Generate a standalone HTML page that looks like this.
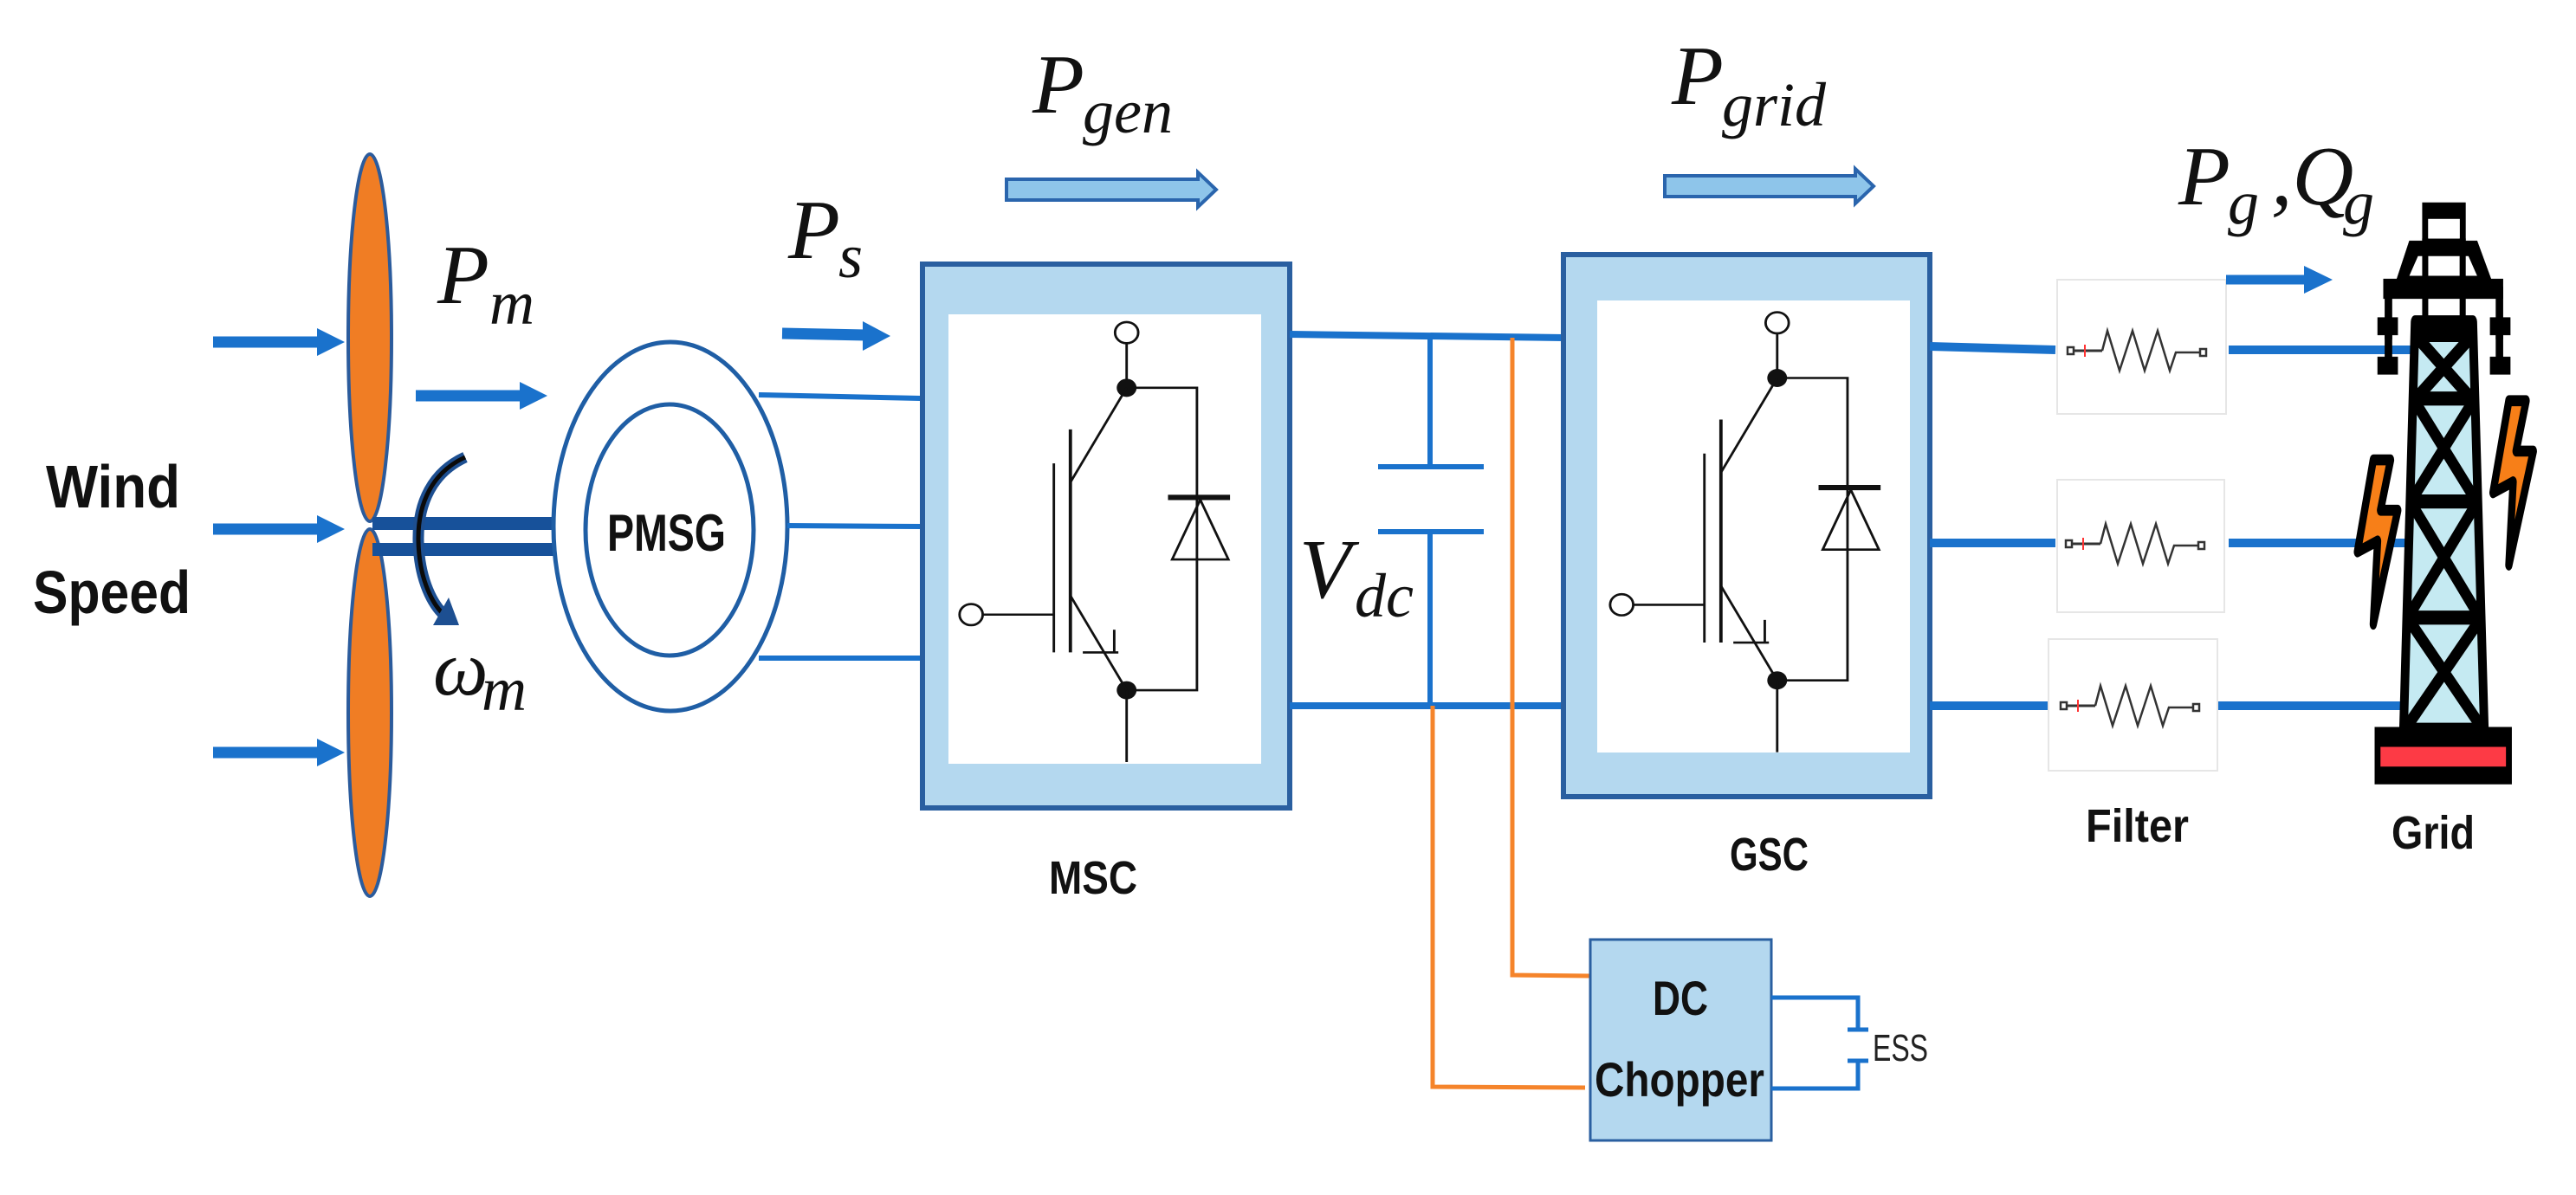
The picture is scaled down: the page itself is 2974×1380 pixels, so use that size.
<!DOCTYPE html>
<html><head><meta charset="utf-8"><style>
html,body{margin:0;padding:0;background:#fff;}
svg{display:block;}
.m{font-family:"Liberation Serif",serif;font-style:italic;fill:#111;}
.t{font-family:"Liberation Sans",sans-serif;font-weight:bold;fill:#111;}
</style></head><body>
<svg width="2974" height="1380" viewBox="0 0 2974 1380" xmlns="http://www.w3.org/2000/svg">
<defs>
<g id="sw" fill="none" stroke="#111">
  <circle cx="605" cy="427" r="14" stroke-width="3" fill="#fff"/>
  <line x1="605" y1="441" x2="605" y2="500" stroke-width="3"/>
  <polyline points="605,500 690,500 690,900 605,900" stroke-width="3"/>
  <circle cx="605" cy="500" r="12" fill="#111" stroke="none"/>
  <circle cx="605" cy="900" r="12" fill="#111" stroke="none"/>
  <line x1="605" y1="900" x2="605" y2="995" stroke-width="3"/>
  <line x1="655" y1="645" x2="730" y2="645" stroke-width="7"/>
  <polygon points="660,727 728,727 694,648" stroke-width="3"/>
  <line x1="605" y1="500" x2="537" y2="625" stroke-width="3"/>
  <line x1="537" y1="555" x2="537" y2="850" stroke-width="4"/>
  <line x1="517" y1="600" x2="517" y2="850" stroke-width="3"/>
  <line x1="431" y1="800" x2="517" y2="800" stroke-width="3"/>
  <circle cx="417" cy="800" r="14" stroke-width="3" fill="#fff"/>
  <line x1="537" y1="775" x2="605" y2="900" stroke-width="3"/>
  <line x1="552" y1="850" x2="595" y2="850" stroke-width="3"/>
  <line x1="590" y1="820" x2="590" y2="850" stroke-width="3"/>
</g>
<g id="res" fill="none" stroke="#333">
  <rect x="2387" y="401" width="7" height="8" stroke-width="2.5"/>
  <line x1="2394" y1="405" x2="2427" y2="405" stroke-width="3"/>
  <line x1="2407" y1="398" x2="2407" y2="412" stroke="#f33" stroke-width="2"/>
  <polyline points="2427,405 2433,382 2447,428 2462,382 2476,428 2491,382 2505,428 2512,407 2540,407" stroke-width="2.5"/>
  <rect x="2540" y="403" width="7" height="8" stroke-width="2.5"/>
</g>
</defs>

<!-- wind arrows -->
<g stroke="#1a72cc" stroke-width="13" fill="#1a72cc">
  <line x1="246" y1="395" x2="370" y2="395"/><polygon points="366,379 398,395 366,411" stroke="none"/>
  <line x1="246" y1="611" x2="370" y2="611"/><polygon points="366,595 398,611 366,627" stroke="none"/>
  <line x1="246" y1="869" x2="370" y2="869"/><polygon points="366,853 398,869 366,885" stroke="none"/>
  <line x1="480" y1="457" x2="605" y2="457"/><polygon points="600,441 632,457 600,473" stroke="none"/>
  <line x1="903" y1="385" x2="1000" y2="387"/><polygon points="996,371 1028,388 996,405" stroke="none"/>
</g>

<!-- blades -->
<ellipse cx="427" cy="390" rx="25" ry="212" fill="#f07d24" stroke="#2b5b9c" stroke-width="4"/>
<ellipse cx="427" cy="823" rx="25" ry="212" fill="#f07d24" stroke="#2b5b9c" stroke-width="4"/>

<!-- shaft -->
<rect x="430" y="597" width="210" height="15" fill="#17519a"/>
<rect x="430" y="627" width="210" height="15" fill="#17519a"/>
<path d="M537,528 C500,545 482,580 483,625 C484,670 500,700 515,712" fill="none" stroke="#1d4f91" stroke-width="13"/>
<path d="M537,528 C500,545 482,580 483,625 C484,670 500,700 515,712" fill="none" stroke="#0a0a0a" stroke-width="5"/>
<polygon points="500,722 530,722 518,690" fill="#1d4f91"/>

<!-- PMSG -->
<ellipse cx="774" cy="608" rx="135" ry="213" fill="#fff" stroke="#1f5ea5" stroke-width="5"/>
<ellipse cx="773" cy="612" rx="97" ry="145" fill="#fff" stroke="#1f5ea5" stroke-width="5"/>
<text x="701" y="636" class="t" font-size="60" textLength="137" lengthAdjust="spacingAndGlyphs">PMSG</text>

<g stroke="#1a72cc" stroke-width="6">
<line x1="876" y1="456" x2="1063" y2="460"/>
<line x1="909" y1="607" x2="1063" y2="608"/>
<line x1="876" y1="760" x2="1063" y2="760"/>
</g>

<!-- MSC -->
<rect x="1065" y="305" width="424" height="628" fill="#b4d8ef" stroke="#2a5fa0" stroke-width="6"/>
<rect x="1095" y="363" width="361" height="519" fill="#fff"/>
<g transform="scale(0.955,0.873) translate(757,13)"><use href="#sw"/></g>
<text x="1211" y="1032" class="t" font-size="54" textLength="102" lengthAdjust="spacingAndGlyphs">MSC</text>

<!-- DC link -->
<g stroke="#1a72cc" stroke-width="8">
<line x1="1489" y1="386" x2="1805" y2="390"/>
<line x1="1489" y1="815" x2="1805" y2="815"/>
</g>
<g stroke="#1a72cc" stroke-width="6">
<line x1="1651" y1="390" x2="1651" y2="539"/>
<line x1="1651" y1="614" x2="1651" y2="815"/>
<line x1="1591" y1="539" x2="1713" y2="539"/>
<line x1="1591" y1="614" x2="1713" y2="614"/>
</g>
<g stroke="#f5842b" stroke-width="5" fill="none">
<polyline points="1746,390 1746,1126 1836,1127"/>
<polyline points="1654,815 1654,1255 1830,1256"/>
</g>
<rect x="1836" y="1085" width="209" height="232" fill="#b4d8ef" stroke="#2a5fa0" stroke-width="3"/>
<text x="1908" y="1172" class="t" font-size="56" textLength="64" lengthAdjust="spacingAndGlyphs">DC</text>
<text x="1841" y="1266" class="t" font-size="56" textLength="196" lengthAdjust="spacingAndGlyphs">Chopper</text>
<g stroke="#1a72cc" stroke-width="5" fill="none">
<polyline points="2045,1152 2145,1152 2145,1189"/>
<polyline points="2045,1257 2145,1257 2145,1225"/>
<line x1="2133" y1="1189" x2="2157" y2="1189"/>
<line x1="2133" y1="1225" x2="2157" y2="1225"/>
</g>
<text x="2162" y="1225" font-family="Liberation Sans,sans-serif" font-size="44" fill="#222" textLength="64" lengthAdjust="spacingAndGlyphs">ESS</text>

<!-- GSC -->
<rect x="1805" y="294" width="423" height="626" fill="#b4d8ef" stroke="#2a5fa0" stroke-width="6"/>
<rect x="1844" y="347" width="361" height="522" fill="#fff"/>
<g transform="translate(1474,0) scale(0.955,0.873)"><use href="#sw"/></g>
<text x="1997" y="1005" class="t" font-size="54" textLength="91" lengthAdjust="spacingAndGlyphs">GSC</text>

<!-- outputs -->
<g stroke="#1a72cc" stroke-width="10">
<line x1="2228" y1="400" x2="2373" y2="404"/>
<line x1="2573" y1="404" x2="2785" y2="404"/>
<line x1="2228" y1="627" x2="2373" y2="627"/>
<line x1="2573" y1="627" x2="2862" y2="627"/>
<line x1="2228" y1="815" x2="2370" y2="815"/>
<line x1="2560" y1="815" x2="2790" y2="815"/>
</g>
<g fill="#fff" stroke="#e6e6e6" stroke-width="2">
<rect x="2375" y="323" width="195" height="155"/>
<rect x="2375" y="554" width="193" height="153"/>
<rect x="2365" y="738" width="195" height="152"/>
</g>
<use href="#res"/>
<use href="#res" transform="translate(-2,223)"/>
<use href="#res" transform="translate(-8,410)"/>
<text x="2408" y="972" class="t" font-size="54" textLength="119" lengthAdjust="spacingAndGlyphs">Filter</text>

<!-- tower -->
<g transform="translate(2700,230) scale(0.333,0.506)" stroke="#000" stroke-linejoin="round">
  <rect x="290" y="8" width="150" height="90" fill="#000"/>
  <rect x="310" y="45" width="110" height="45" fill="#fff" stroke="none"/>
  <polygon points="245,95 480,95 530,185 200,185" fill="#000"/>
  <polygon points="275,130 450,130 480,175 245,175" fill="#fff" stroke="none"/>
  <rect x="155" y="182" width="415" height="45" fill="#000"/>
  <rect x="290" y="90" width="20" height="190" fill="#000"/>
  <rect x="420" y="90" width="20" height="190" fill="#000"/>
  <rect x="160" y="200" width="25" height="120" fill="#000"/>
  <rect x="545" y="200" width="25" height="120" fill="#000"/>
  <rect x="135" y="270" width="70" height="40" fill="#000"/>
  <rect x="135" y="360" width="70" height="40" fill="#000"/>
  <rect x="160" y="300" width="25" height="70" fill="#000"/>
  <rect x="525" y="270" width="70" height="40" fill="#000"/>
  <rect x="525" y="360" width="70" height="40" fill="#000"/>
  <rect x="545" y="300" width="25" height="70" fill="#000"/>
  <polygon points="265,280 465,280 505,1210 225,1210" fill="#c5eaf2" stroke-width="30"/>
  <g stroke-width="32">
    <line x1="262" y1="310" x2="468" y2="310"/>
    <line x1="255" y1="455" x2="475" y2="455"/>
    <line x1="245" y1="690" x2="485" y2="690"/>
    <line x1="235" y1="955" x2="495" y2="955"/>
    <line x1="265" y1="310" x2="460" y2="455"/><line x1="465" y1="310" x2="268" y2="455"/>
    <line x1="258" y1="455" x2="478" y2="690"/><line x1="472" y1="455" x2="250" y2="690"/>
    <line x1="248" y1="690" x2="490" y2="955"/><line x1="482" y1="690" x2="240" y2="955"/>
    <line x1="238" y1="955" x2="500" y2="1210"/><line x1="495" y1="955" x2="230" y2="1210"/>
  </g>
  <rect x="125" y="1205" width="475" height="130" fill="#000"/>
  <rect x="145" y="1250" width="435" height="45" fill="#fd3a45" stroke="none"/>
  <polygon points="120,595 180,595 145,710 205,710 120,970 135,780 65,805" fill="#f77f18" stroke-width="25"/>
  <polygon points="590,460 650,460 615,575 675,575 590,835 605,645 535,670" fill="#f77f18" stroke-width="25"/>
</g>
<text x="2761" y="980" class="t" font-size="54" textLength="96" lengthAdjust="spacingAndGlyphs">Grid</text>

<!-- Wind Speed -->
<text x="53" y="586" class="t" font-size="70" textLength="155" lengthAdjust="spacingAndGlyphs">Wind</text>
<text x="38" y="708" class="t" font-size="70" textLength="182" lengthAdjust="spacingAndGlyphs">Speed</text>

<g fill="#8ec5ea" stroke="#2a65ad" stroke-width="4">
<polygon points="1162,207 1383,207 1383,199 1404,219 1383,239 1383,231 1162,231"/>
<polygon points="1922,203 2142,203 2142,195 2163,215 2142,235 2142,227 1922,227"/>
</g>
<g stroke="#1a72cc" stroke-width="11" fill="#1a72cc">
<line x1="2570" y1="323" x2="2665" y2="323"/><polygon points="2660,307 2693,323 2660,339" stroke="none"/>
</g>

<!-- math labels -->
<text x="505" y="350" class="m" font-size="98">P</text><text x="565" y="374" class="m" font-size="72">m</text>
<text x="500" y="802" class="m" font-size="90">ω</text><text x="556" y="820" class="m" font-size="72">m</text>
<text x="910" y="298" class="m" font-size="98">P</text><text x="968" y="320" class="m" font-size="72">s</text>
<text x="1192" y="130" class="m" font-size="98">P</text><text x="1250" y="153" class="m" font-size="72">gen</text>
<text x="1930" y="120" class="m" font-size="98">P</text><text x="1988" y="145" class="m" font-size="72">grid</text>
<text x="1500" y="690" class="m" font-size="98">V</text><text x="1564" y="712" class="m" font-size="72">dc</text>
<text x="2515" y="236" class="m" font-size="98">P</text><text x="2572" y="258" class="m" font-size="72">g</text>
<text x="2622" y="236" class="m" font-size="98">,Q</text><text x="2705" y="258" class="m" font-size="72">g</text>
</svg>
</body></html>
